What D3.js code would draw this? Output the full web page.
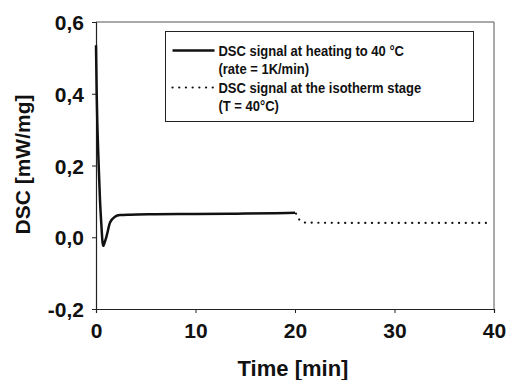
<!DOCTYPE html>
<html>
<head>
<meta charset="utf-8">
<script src="https://cdn.jsdelivr.net/npm/d3@7"></script>
<style>
  body { margin: 0; background: #fff; }
  svg text { font-family: "Liberation Sans", Arial, sans-serif; font-weight: bold; fill: #111; }
</style>
</head>
<body>
<div id="chart"></div>
<script>
// heating segment (solid)
var heatTime = [0, 0.07, 0.27, 0.4, 0.55, 0.65, 0.73, 0.85, 1.07, 1.41, 1.9, 2.4, 3.4, 6, 10, 15, 18, 20];
var heatDsc  = [0.535, 0.4, 0.2, 0.105, 0.03, -0.012, -0.024, -0.016, 0.004, 0.041, 0.057, 0.062, 0.063, 0.064, 0.065, 0.066, 0.067, 0.068];
// isotherm segment (dotted)
var isoTime = [20.1, 20.4, 21, 25, 30, 35, 39.5];
var isoDsc  = [0.066, 0.05, 0.041, 0.04, 0.04, 0.04, 0.04];

var xTicks = [0, 10, 20, 30, 40];
var yTicks = [-0.2, 0, 0.2, 0.4, 0.6];

var legendLabels = [
  ["DSC signal at heating to 40 °C", "(rate = 1K/min)"],
  ["DSC signal at the isotherm stage", "(T = 40°C)"]
];

var width = 507, height = 380;
var margin = {top: 22, right: 13, bottom: 71, left: 96};
var iw = width - margin.left - margin.right,
    ih = height - margin.top - margin.bottom;

var svg = d3.select("#chart").append("svg")
  .attr("width", width)
  .attr("height", height);

var g = svg.append("g")
  .attr("transform", "translate(" + margin.left + "," + margin.top + ")");

var x = d3.scaleLinear().domain([0, 40]).range([0, iw]);
var y = d3.scaleLinear().domain([-0.2, 0.6]).range([ih, 0]);

var comma = function(d){ return d3.format(".1f")(d).replace(".", ",").replace("−", "-"); };

// frame top + right
g.append("path")
  .attr("d", "M0,0H" + iw + "V" + ih)
  .attr("fill", "none")
  .attr("stroke", "#555")
  .attr("stroke-width", 1);

var xAxis = g.append("g")
  .attr("transform", "translate(0," + ih + ")")
  .call(d3.axisBottom(x).tickValues(xTicks).tickSize(4).tickPadding(10).tickFormat(d3.format("d")));

var yAxis = g.append("g")
  .call(d3.axisLeft(y).tickValues(yTicks).tickSize(4).tickPadding(8).tickFormat(comma));

[xAxis, yAxis].forEach(function(a){
  a.select(".domain").attr("stroke", "#222").attr("stroke-width", 1.2);
  a.selectAll(".tick line").attr("stroke", "#222");
  a.selectAll(".tick text")
    .attr("font-size", 21)
    .attr("font-family", "Liberation Sans, Arial, sans-serif")
    .attr("font-weight", "bold")
    .attr("fill", "#111");
});
yAxis.selectAll(".tick text").attr("dy", "0.36em");

// axis titles
svg.append("text")
  .attr("x", margin.left + x(20) - 2)
  .attr("y", 376)
  .attr("text-anchor", "middle")
  .attr("font-size", 22)
  .text("Time [min]");

svg.append("text")
  .attr("transform", "translate(30," + (margin.top + y(0.2) - 1) + ") rotate(-90)")
  .attr("text-anchor", "middle")
  .attr("font-size", 21)
  .text("DSC [mW/mg]");

// lines
var line = d3.line()
  .x(function(d){ return x(d[0]); })
  .y(function(d){ return y(d[1]); })
  .curve(d3.curveMonotoneX);

g.append("path")
  .datum(heatTime.map(function(t, i){ return [t, heatDsc[i]]; }))
  .attr("d", line)
  .attr("fill", "none")
  .attr("stroke", "#111")
  .attr("stroke-width", 2.5);

g.append("path")
  .datum(isoTime.map(function(t, i){ return [t, isoDsc[i]]; }))
  .attr("d", line)
  .attr("fill", "none")
  .attr("stroke", "#111")
  .attr("stroke-width", 2.2)
  .attr("stroke-linecap", "round")
  .attr("stroke-dasharray", "0.1,6.6");

// legend
var legend = svg.append("g").attr("transform", "translate(165.5,31.5)");
legend.append("rect")
  .attr("width", 308)
  .attr("height", 90)
  .attr("fill", "#fff")
  .attr("stroke", "#222")
  .attr("stroke-width", 1);

legendLabels.forEach(function(lab, i){
  var top = 14 + i * 37;
  legend.append("line")
    .attr("x1", 7).attr("x2", 49)
    .attr("y1", top + 5).attr("y2", top + 5)
    .attr("stroke", "#111")
    .attr("stroke-width", i == 0 ? 2.5 : 2.2)
    .attr("stroke-linecap", i == 0 ? "butt" : "round")
    .attr("stroke-dasharray", i == 0 ? null : "0.1,6.6");
  lab.forEach(function(s, j){
    legend.append("text")
      .attr("transform", "translate(53," + (top + 10 + j * 18.5) + ") scale(1,1.17)")
      .attr("font-size", 13)
      .text(s);
  });
});
</script>
</body>
</html>
